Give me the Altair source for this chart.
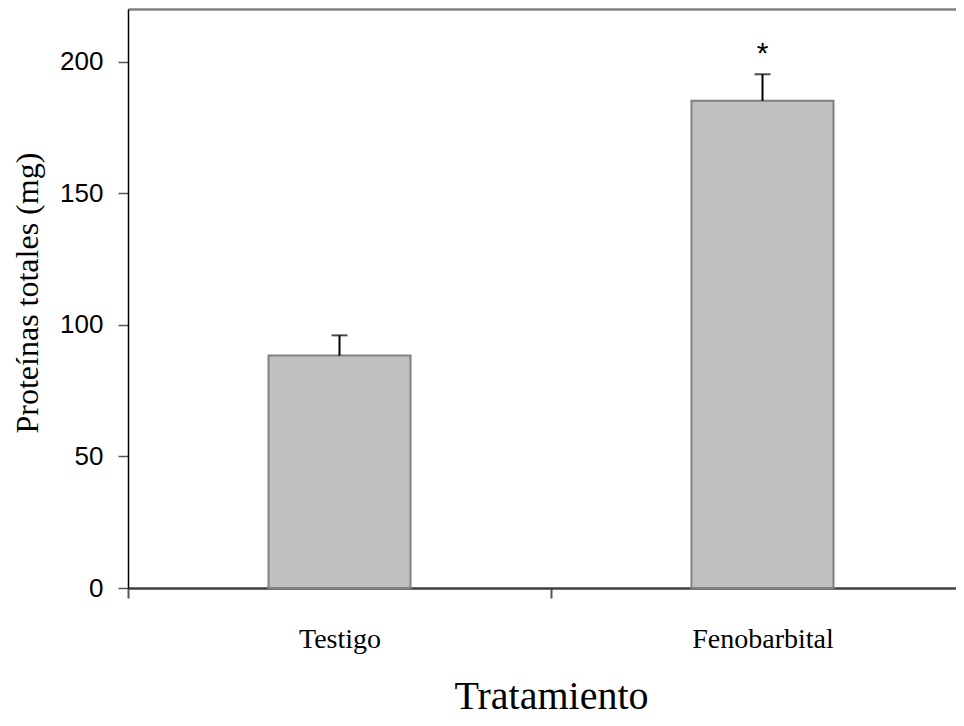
import altair as alt
import pandas as pd

categories = ["Testigo", "Fenobarbital"]
means = [88.3, 185.1]
errors = [7.7, 10.1]
marks = ["", "*"]

df = pd.DataFrame({
    "cat": categories,
    "mean": means,
    "upper": [m + e for m, e in zip(means, errors)],
    "mark": marks,
})

xscale = alt.Scale(domain=categories, range=[0, 846], paddingInner=0, paddingOuter=0)
yscale = alt.Scale(domain=[0, 220], nice=False)

x_bottom = alt.X(
    "cat:N", sort=categories, scale=xscale,
    axis=alt.Axis(
        orient="bottom", title="Tratamiento", tickBand="extent",
        domainColor="#404040", domainWidth=2.5, tickColor="#555555", tickWidth=2, tickSize=10,
        labelAngle=0, labelFont="Liberation Serif", labelFontSize=28, labelColor="black",
        labelBaseline="alphabetic", labelPadding=49,
        titleFont="Liberation Serif", titleFontSize=40, titleFontWeight="normal",
        titleColor="black", titleBaseline="alphabetic", titleY=120,
    ),
)

y_axis = alt.Axis(
    title="Proteínas totales (mg)", values=[0, 50, 100, 150, 200],
    domainColor="black", domainWidth=1.5, tickColor="#555555", tickWidth=1.5, tickSize=10,
    labelFont="Liberation Sans", labelFontSize=26, labelColor="black", labelPadding=15,
    grid=False,
    titleFont="Liberation Serif", titleFontSize=32, titleFontWeight="normal", titleColor="black",
    titleAngle=270, titleAlign="left", titleBaseline="alphabetic", titleX=-91, titleY=424,
)

base = alt.Chart(df)

bars = base.mark_bar(size=142, fill="#c0c0c0", stroke="#808080", strokeWidth=2).encode(
    x=x_bottom,
    y=alt.Y("mean:Q", scale=yscale, axis=y_axis),
)

rules = base.mark_rule(color="black", strokeWidth=2).encode(
    x=alt.X("cat:N", sort=categories, scale=xscale, axis=alt.Axis(
        orient="top", labels=False, ticks=False, title=None,
        domainColor="#808080", domainWidth=2.5)),
    y=alt.Y("mean:Q", scale=yscale),
    y2="upper:Q",
)

caps = base.mark_tick(color="black", size=16, thickness=2, orient="horizontal").encode(
    x=alt.X("cat:N", sort=categories, scale=xscale, axis=None),
    y=alt.Y("upper:Q", scale=yscale),
)

stars = base.mark_text(font="Liberation Sans", fontSize=30, color="black",
                       baseline="alphabetic", dy=-11).encode(
    x=alt.X("cat:N", sort=categories, scale=xscale, axis=None),
    y=alt.Y("upper:Q", scale=yscale),
    text="mark:N",
)

chart = alt.layer(bars, rules, caps, stars).resolve_axis(x="independent").properties(
    width=828, height=579,
    autosize=alt.AutoSizeParams(type="none"),
    padding={"left": 120, "top": 1, "right": 0, "bottom": 130},
    background="white",
).configure_view(strokeWidth=0)

chart.save("out.html", embed_options={"renderer": "svg", "actions": False})
